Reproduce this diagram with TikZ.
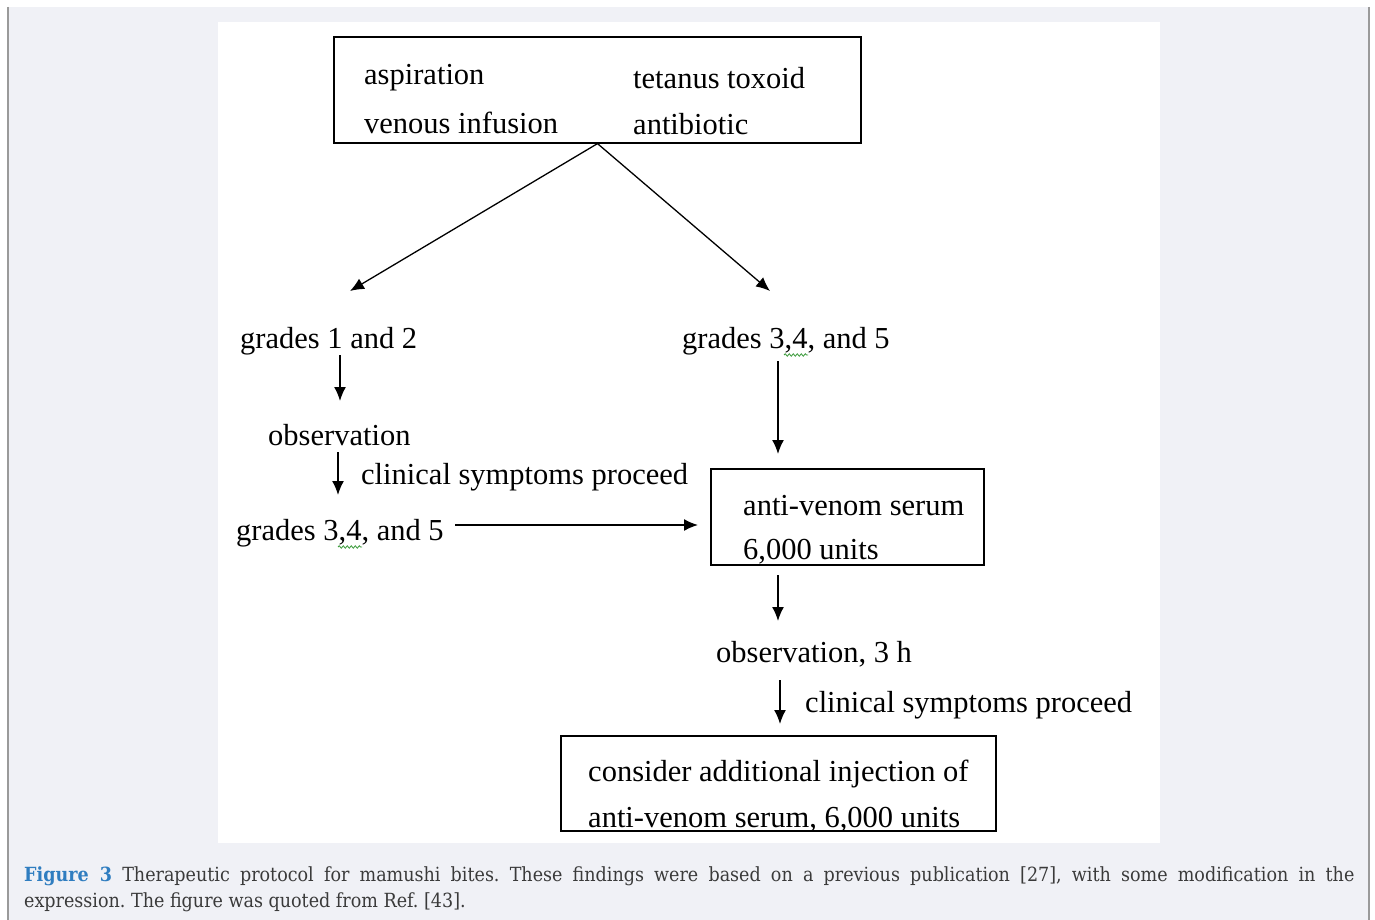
\documentclass[tikz,border=0pt]{standalone}
\usepackage{fontspec}
\setmainfont{Liberation Serif}
\newfontfamily\capfont{DejaVu Serif Condensed}
\usetikzlibrary{arrows.meta,decorations.pathmorphing}
\definecolor{bgc}{HTML}{F0F1F6}
\definecolor{framec}{HTML}{9A9A9A}
\definecolor{figblue}{HTML}{2F7DC0}
\definecolor{captxt}{HTML}{3A3A3A}
\definecolor{squig}{HTML}{3A9A3A}
\frenchspacing
\begin{document}
\begin{tikzpicture}[x=1pt,y=-1pt,
  txt/.style={font=\fontsize{30.5}{36}\selectfont, inner sep=0pt, anchor=west, yshift=-3pt},
  boxnode/.style={draw, line width=1.2pt, inner sep=0pt},
  arr/.style={line width=1.6pt, -{Latex[length=14pt,width=12pt]}},
  darr/.style={line width=1.3pt, -{Latex[length=14pt,width=12pt]}},
  captext/.style={font=\capfont\fontsize{19.5}{23}\selectfont, text=captxt, inner sep=0pt, anchor=base west},
  wavy/.style={squig, line width=0.8pt, decorate, decoration={snake, amplitude=1.2pt, segment length=4pt}}]
\useasboundingbox (0,0) rectangle (1375,920);
\fill[white] (0,0) rectangle (1375,920);
\fill[bgc] (8,7) rectangle (1369,920);
\draw[framec, line width=1.2pt] (8,7) -- (8,920);
\draw[framec, line width=1.2pt] (1369,7) -- (1369,920);
\fill[white] (218,22) rectangle (1160,843);

% top box
\node[boxnode, minimum width=527pt, minimum height=106pt] (topbox) at (597.5,90) {};
\node[txt] (asp) at (364,75) {aspiration};
\node[txt] (ven) at (364,120) {venous infusion};
\node[txt] (tet) at (633,75) {tetanus toxoid};
\node[txt] (ant) at (633,121) {antibiotic};

% left branch
\node[txt] (g12) at (240,338) {grades 1 and 2};
\node[txt] (obs1) at (268,432) {observation};
\node[txt] (csp1) at (361,474) {clinical symptoms proceed};
\node[txt] (g345a) at (236,530) {grades 3,4, and 5};

% right branch
\node[txt] (g345b) at (682,338) {grades 3,4, and 5};
\node[boxnode, minimum width=273pt, minimum height=96pt] (avbox) at (847.5,517) {};
\node[txt] (av1) at (743,503) {anti-venom serum};
\node[txt] (av2) at (743,549) {6,000 units};
\node[txt] (obs2) at (716,651) {observation, 3 h};
\node[txt] (csp2) at (805,702) {clinical symptoms proceed};
\node[boxnode, minimum width=435pt, minimum height=95pt] (botbox) at (778.5,783.5) {};
\node[txt] (bt1) at (588,771) {consider additional injection of};
\node[txt] (bt2) at (588,817) {anti-venom serum, 6,000 units};

% spell-check squiggles
\coordinate (sqa1) at (338,547); \coordinate (sqa2) at (362,547);
\coordinate (sqb1) at (784,355); \coordinate (sqb2) at (808,355);
\draw[wavy] (sqa1) -- (sqa2);
\draw[wavy] (sqb1) -- (sqb2);

% arrow end points
\coordinate (e1) at (350,291);
\coordinate (e2) at (770,291);
\coordinate (s3) at (340,355); \coordinate (e3) at (340,401);
\coordinate (s4) at (338,452); \coordinate (e4) at (338,495);
\coordinate (s5) at (455,525); \coordinate (e5) at (698,525);
\coordinate (s6) at (778,361); \coordinate (e6) at (778,454);
\coordinate (s7) at (778,575); \coordinate (e7) at (778,621);
\coordinate (s8) at (780,680); \coordinate (e8) at (780,724);

\draw[darr] (topbox.south) -- (e1);
\draw[darr] (topbox.south) -- (e2);
\draw[arr] (s3) -- (e3);
\draw[arr] (s4) -- (e4);
\draw[arr] (s5) -- (e5);
\draw[arr] (s6) -- (e6);
\draw[arr] (s7) -- (e7);
\draw[arr] (s8) -- (e8);

% caption
\node[captext] (cap1) at (24,881) {\makebox[1330pt][s]{\textcolor{figblue}{\bfseries Figure 3} Therapeutic protocol for mamushi bites. These findings were based on a previous publication [27], with some modification in the}};
\node[captext] (cap2) at (24,907) {expression. The figure was quoted from Ref. [43].};
\end{tikzpicture}
\end{document}
